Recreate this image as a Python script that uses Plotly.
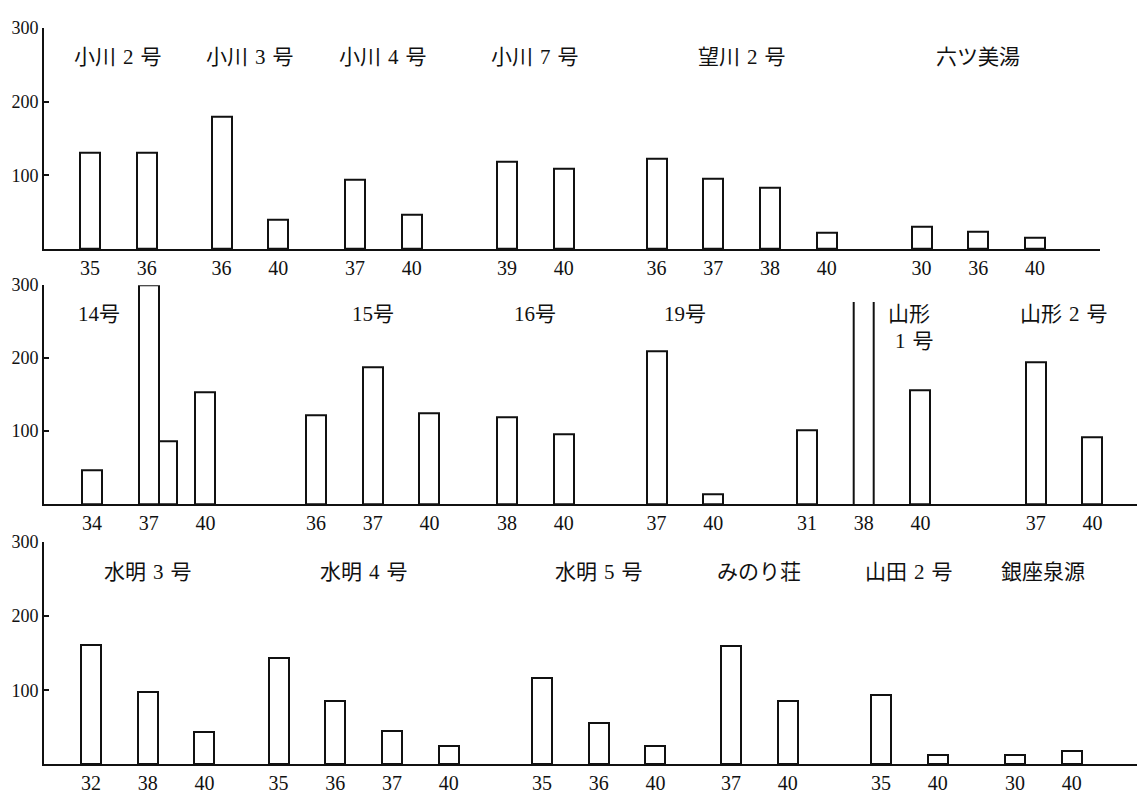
import plotly.graph_objects as go

# ---- data -------------------------------------------------------------
# upper row
top_sites = ["小川 2 号", "小川 3 号", "小川 4 号", "小川 7 号", "望川 2 号", "六ツ美湯"]
top_years = [["35", "36"], ["36", "40"], ["37", "40"], ["39", "40"],
             ["36", "37", "38", "40"], ["30", "36", "40"]]
top_values = [[130, 131], [180, 40], [94, 47], [119, 109],
              [122, 96, 83, 22], [31, 23, 16]]

# middle row
mid_sites = ["14号", "15号", "16号", "19号", "山形<br> 1 号", "山形 2 号"]
mid_years = [["34", "37", "40"], ["36", "37", "40"], ["38", "40"], ["37", "40"],
             ["31", "38", "40"], ["37", "40"]]
mid_values = [[47, 300, 154], [122, 188, 124], [119, 96], [210, 13],
              [101, 277, 156], [195, 92]]
# extra unlabelled bar attached to the right side of 14号 / 37
side_bar_site = "14号"
side_bar_year = "37"
side_bar_value = 86
# 山形1号 / 38 runs off the scale: drawn without a top edge
open_bar_site = "山形<br> 1 号"
open_bar_year = "38"

# lower row
bot_sites = ["水明 3 号", "水明 4 号", "水明 5 号", "みのり荘", "山田 2 号", "銀座泉源"]
bot_years = [["32", "38", "40"], ["35", "36", "37", "40"], ["35", "36", "40"],
             ["37", "40"], ["35", "40"], ["30", "40"]]
bot_values = [[161, 97, 44], [144, 86, 45, 25], [116, 56, 25],
              [160, 86], [93, 12], [12, 18]]

y_tick_values = [100, 200, 300]

# ---- layout parameters -------------------------------------------------
W, H = 1137, 794
AXIS_X = 44          # position of the vertical axis (horizontal units = px)
STEP = 56.7          # spacing of bars within one site
BAR_W = 20
SIDE_W = 18

panels = [
    dict(sites=top_sites, years=top_years, values=top_values,
         first=[90, 221.5, 355, 507, 656.6, 921.6],
         x_end=1100, y_dom=(1 - 242.5 / H, 1 - 18 / H),
         label_shift={}),
    dict(sites=mid_sites, years=mid_years, values=mid_values,
         first=[92, 316, 507, 656.5, 807, 1035.7],
         x_end=W, y_dom=(1 - 501 / H, 1 - 279 / H),
         label_shift={0: -50, 4: 47}),
    dict(sites=bot_sites, years=bot_years, values=bot_values,
         first=[91, 278.6, 542, 731, 881, 1015],
         x_end=W, y_dom=(1 - 765 / H, 1 - 539.5 / H),
         label_shift={}),
]

NUM_FONT = "Liberation Serif"
LABEL_FONT = "Liberation Serif, Noto Sans CJK JP"

fig = go.Figure()
annotations = []

for i, p in enumerate(panels, start=1):
    xa, ya = f"x{i}", f"y{i}"
    bar_x, bar_y = [], []
    tick_x, tick_t = [], []
    open_x, open_y = [], []
    side_x, side_y = [], []
    for g, site in enumerate(p["sites"]):
        xs = [p["first"][g] + k * STEP for k in range(len(p["years"][g]))]
        for x, yr, v in zip(xs, p["years"][g], p["values"][g]):
            tick_x.append(x)
            tick_t.append(yr)
            if site == open_bar_site and yr == open_bar_year:
                for edge in (x - BAR_W / 2, x + BAR_W / 2):
                    open_x += [edge, edge, None]
                    open_y += [0, v, None]
            else:
                bar_x.append(x)
                bar_y.append(v)
            if site == side_bar_site and yr == side_bar_year:
                side_x.append(x + (BAR_W + SIDE_W) / 2)
                side_y.append(side_bar_value)
        lx = sum(xs) / len(xs) + p["label_shift"].get(g, 0)
        multi = "<br>" in site
        annotations.append(dict(
            x=lx, y=242 if multi else 260, xref=xa, yref=ya,
            text=site.replace(" ", "\u2004"), showarrow=False,
            font=dict(family=LABEL_FONT, size=21, color="#111"),
            xanchor="center", yanchor="middle", align="left",
        ))

    bar_style = dict(color="white", line=dict(color="#111", width=2))
    fig.add_trace(go.Bar(x=bar_x, y=bar_y, width=BAR_W, marker=bar_style,
                         xaxis=xa, yaxis=ya, showlegend=False, hoverinfo="x+y"))
    if side_x:
        fig.add_trace(go.Bar(x=side_x, y=side_y, width=SIDE_W, marker=bar_style,
                             xaxis=xa, yaxis=ya, showlegend=False))
    if open_x:
        fig.add_trace(go.Scatter(x=open_x, y=open_y, mode="lines",
                                 line=dict(color="#111", width=2),
                                 xaxis=xa, yaxis=ya, showlegend=False))

    fig.update_layout({
        f"xaxis{i}": dict(
            domain=[AXIS_X / W, p["x_end"] / W], range=[AXIS_X, p["x_end"]],
            anchor=ya, showline=True, linecolor="#111", linewidth=2,
            showgrid=False, zeroline=False, ticks="",
            tickvals=tick_x, ticktext=tick_t,
            tickfont=dict(family=NUM_FONT, size=20, color="#111"),
        ),
        f"yaxis{i}": dict(
            domain=list(p["y_dom"]), range=[0, 300], anchor=xa,
            showline=True, linecolor="#111", linewidth=2,
            showgrid=False, zeroline=False,
            ticks="inside", ticklen=5, tickwidth=2, tickcolor="#111",
            tickvals=y_tick_values,
            tickfont=dict(family=NUM_FONT, size=18, color="#111"),
        ),
    })

fig.update_layout(
    width=W, height=H,
    margin=dict(l=0, r=0, t=0, b=0),
    paper_bgcolor="white", plot_bgcolor="white",
    bargap=0, annotations=annotations,
)

fig.write_html("out.html")
